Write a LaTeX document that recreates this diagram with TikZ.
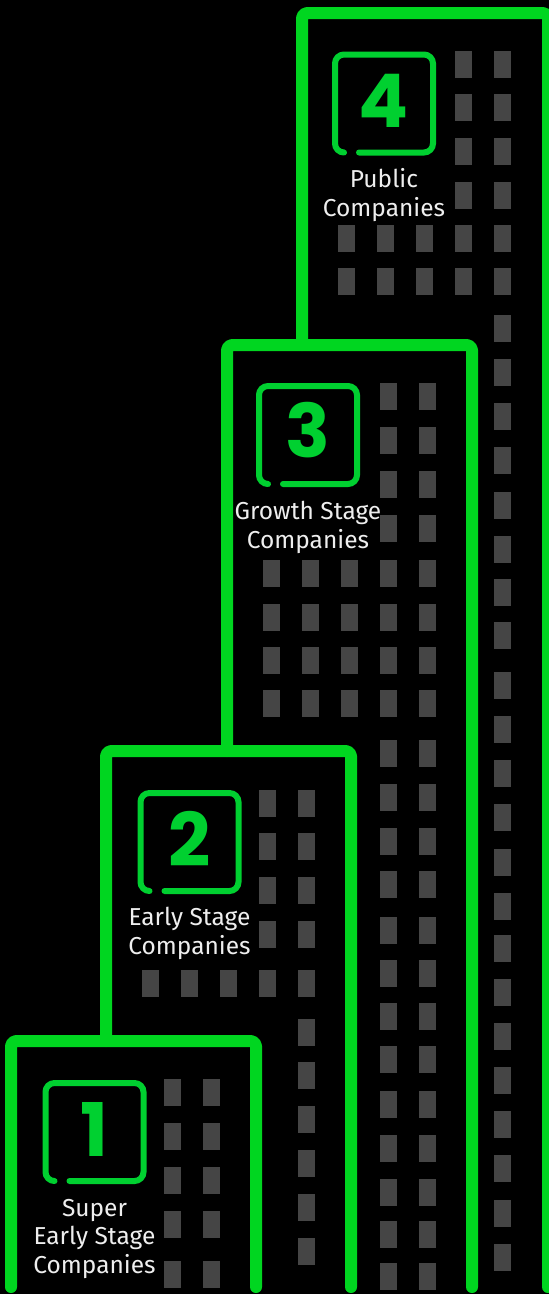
\documentclass[tikz,border=0pt]{standalone}
\usepackage{fontspec}
\IfFontExistsTF{Fira Sans Book}{\newfontfamily\labelfont{Fira Sans Book}}{\newfontfamily\labelfont{Fira Sans}}
\IfFontExistsTF{Poppins-Bold}{\newfontfamily\digitfont{Poppins-Bold}}{%
  \IfFontExistsTF{Poppins}{\newfontfamily\digitfont{Poppins}[UprightFeatures={FakeBold=1.5}]}{%
    \newfontfamily\digitfont{Fira Sans}[UprightFeatures={FakeBold=2}]}}
\definecolor{bgreen}{RGB}{0,214,32}
\definecolor{badgegreen}{RGB}{0,208,48}
\definecolor{wingray}{RGB}{69,69,69}
\definecolor{labelwhite}{RGB}{238,238,238}
\begin{document}
\begin{tikzpicture}[x=1pt,y=-1pt,
  tower/.style={draw=bgreen, line width=12pt, line cap=round, line join=round, rounded corners=5pt},
  pane/.style={fill=wingray},
  badge/.pic={\draw[badgegreen, line width=6pt, line cap=round, rounded corners=9pt]
      (-25,49) -- (49,49) -- (49,-49) -- (-49,-49) -- (-49,49) -- (-40,49);},
  digit/.style={text=badgegreen, font=\digitfont\fontsize{74}{74}\selectfont, anchor=base, inner sep=0pt},
  stagelabel/.style={text=labelwhite, font=\labelfont\fontsize{24.5}{28.5}\selectfont, align=center, anchor=base, inner sep=0pt}]
\useasboundingbox (0,0) rectangle (549,1294);
\fill[black] (0,0) rectangle (549,1294);

% windows, tower 4
\foreach \y in {51,94,138,182} \foreach \x in {455,494} \fill[pane] (\x,\y) rectangle ++(17,27);
\foreach \y in {225,268} \foreach \x in {338,377,416,455,494} \fill[pane] (\x,\y) rectangle ++(17,27);
\foreach \y in {315,359,403,447,492,536,579,622,672,716,760,804,849,893,935,979,1023,1067,1111,1155,1200,1244}
  \fill[pane] (494,\y) rectangle ++(17,27);
% windows, tower 3
\foreach \y in {383,427,471,515} \foreach \x in {380,419} \fill[pane] (\x,\y) rectangle ++(17,27);
\foreach \y in {560,604,647,690} \foreach \x in {263,302,341,380,419} \fill[pane] (\x,\y) rectangle ++(17,27);
\foreach \y in {740,784,828,871,917,960,1003,1046,1091,1135,1179,1221,1263}
  \foreach \x in {380,419} \fill[pane] (\x,\y) rectangle ++(17,27);
% windows, tower 2
\foreach \y in {790,833,877,921} \foreach \x in {259,298} \fill[pane] (\x,\y) rectangle ++(17,27);
\foreach \x in {142,181,220,259,298} \fill[pane] (\x,970) rectangle ++(17,27);
\foreach \y in {1019,1062,1106,1150,1194,1238} \fill[pane] (298,\y) rectangle ++(17,27);
% windows, tower 1
\foreach \y in {1079,1123,1167,1211,1261} \foreach \x in {164,203} \fill[pane] (\x,\y) rectangle ++(17,27);

% tower outlines
\draw[tower] (302,345) -- (302,13) -- (548,13) -- (548,1287);
\draw[tower] (227,751) -- (227,345) -- (472,345) -- (472,1287);
\draw[tower] (106,1041) -- (106,751) -- (351,751) -- (351,1287);
\draw[tower] (11,1287) -- (11,1041) -- (256,1041) -- (256,1287);

% badges
\pic (b4) at (384,103.5) {badge};
\pic (b3) at (308,435) {badge};
\pic (b2) at (189.5,842) {badge};
\pic (b1) at (94.5,1132) {badge};
\node[digit] (d4) at (384,127) {4};
\node[digit] (d3) at (308,457) {3};
\node[digit] (d2) at (189.5,866) {2};
\node[digit] (d1) at (94.5,1156) {1};

% stage names (anchored at the baseline of the last line)
\node[stagelabel] (l4) at (384,216) {Public\\Companies};
\node[stagelabel] (l3) at (308,548) {Growth Stage\\Companies};
\node[stagelabel] (l2) at (189.5,954) {Early Stage\\Companies};
\node[stagelabel] (l1) at (94.5,1273) {Super\\Early Stage\\Companies};
\end{tikzpicture}
\end{document}
